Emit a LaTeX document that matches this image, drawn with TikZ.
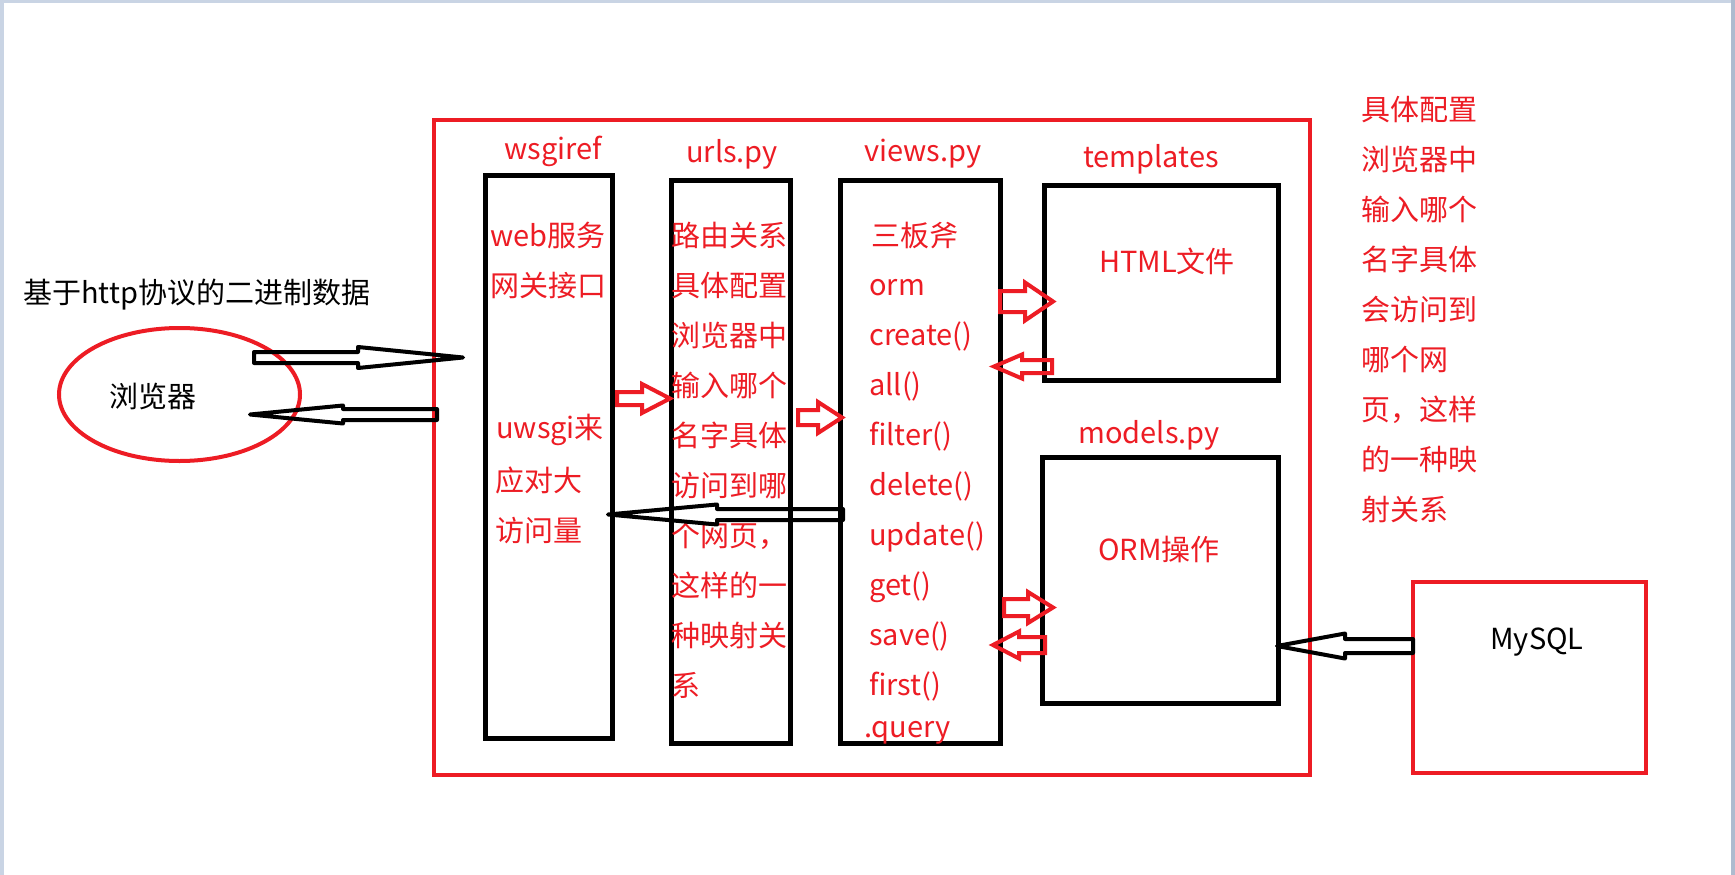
\documentclass[tikz,border=0pt]{standalone}
\usepackage{fontspec}
\setmainfont{Noto Sans CJK SC}
\definecolor{pred}{HTML}{ED1C24}
\definecolor{frameL}{HTML}{C9D4E4}
\definecolor{frameR}{HTML}{AEBBCF}
\newcommand\harrow[7]{% style, tail x, base x, tip x, y, shaft half, head half
  \draw[#1] ({#2},{#5-#6}) -- ({#3},{#5-#6}) -- ({#3},{#5-#7}) -- ({#4},{#5})
    -- ({#3},{#5+#7}) -- ({#3},{#5+#6}) -- ({#2},{#5+#6}) -- cycle;}
\tikzset{
  blk/.style={draw=black, line width=5pt},
  redbox/.style={draw=pred, line width=4pt},
  barrow/.style={draw=black, line width=4pt, line join=round},
  rarrow/.style={draw=pred, line width=4pt, line join=miter},
  rtxt/.style={text=pred, anchor=base west, inner sep=0pt, font=\fontsize{29}{29}\selectfont},
  rlab/.style={text=pred, anchor=base, inner sep=0pt, font=\fontsize{29}{29}\selectfont},
  ktxt/.style={text=black, inner sep=0pt, font=\fontsize{29}{29}\selectfont},
}
\begin{document}
\begin{tikzpicture}[x=1pt,y=-1pt]
\useasboundingbox (0,0) rectangle (1735,875);
\fill[white] (0,0) rectangle (1735,875);
\fill[frameL] (0,0) rectangle (4,875);
\fill[frameL] (0,0) rectangle (1735,3);
\fill[frameR] (1731,0) rectangle (1735,875);
% outer red frame
\draw[redbox] (434,120) rectangle (1310,775);
% browser
\draw[redbox] (179.5,394.5) ellipse [x radius=120.5, y radius=66.5];
\node[ktxt, anchor=base] (browser) at (153,407) {浏览器};
\node[ktxt, anchor=base west] (httpdata) at (23,303) {基于http协议的二进制数据};
% column boxes
\draw[blk] (485.5,175.5) rectangle (612.5,738);
\draw[blk] (671,180.5) rectangle (790.5,743);
\draw[blk] (840.5,180.5) rectangle (1000.5,743);
\draw[blk] (1044.5,185.5) rectangle (1278,380);
\draw[blk] (1042.5,457.5) rectangle (1278,703);
\draw[redbox] (1413,582) rectangle (1646,773);
% labels
\node[rlab] (lwsgi) at (553,159) {wsgiref};
\node[rlab] (lurls) at (732,162) {urls.py};
\node[rlab] (lviews) at (923,161) {views.py};
\node[rlab] (ltpl) at (1151,167) {templates};
\node[rlab] (lmod) at (1149,443) {models.py};
\node[rlab] (html) at (1167,272) {HTML文件};
\node[rlab] (orm) at (1159,560) {ORM操作};
\node[ktxt, anchor=base] (mysql) at (1537,649) {MySQL};
% wsgiref texts
\node[rtxt] (w1) at (490,246) {web服务};
\node[rtxt] (w2) at (490,296) {网关接口};
\node[rtxt] (w3) at (496,438) {uwsgi来};
\node[rtxt] (w4) at (495,491) {应对大};
\node[rtxt] (w5) at (495,541) {访问量};
% urls texts
\foreach \t [count=\i from 0] in {路由关系,具体配置,浏览器中,输入哪个,名字具体,访问到哪,个网页，,这样的一,种映射关,系}
  \node[rtxt] (u\i) at (671,{246+50*\i}) {\t};
% views texts
\node[rtxt] (v0) at (871,246) {三板斧};
\foreach \t [count=\i from 1] in {orm,create(),all(),filter(),delete(),update(),get(),save(),first()}
  \node[rtxt] (v\i) at (869,{245+50*\i}) {\t};
\node[rtxt] (vq) at (864,737) {.query};
% right texts
\foreach \t [count=\i from 0] in {具体配置,浏览器中,输入哪个,名字具体,会访问到,哪个网,页，这样,的一种映,射关系}
  \node[rtxt] (r\i) at (1361,{120+50*\i}) {\t};
% black hollow arrows
\harrow{barrow}{254}{358}{463}{357.5}{5.5}{10.5}
\harrow{barrow}{437}{343}{250}{414.5}{5.5}{9}
\harrow{barrow}{843}{717}{608}{514.5}{5.5}{10}
\harrow{barrow}{1413}{1345}{1277}{646}{7}{12.5}
% red hollow arrows
\harrow{rarrow}{617}{642}{670}{398.5}{6.5}{14.5}
\harrow{rarrow}{798}{818}{842}{417.5}{7.5}{15.5}
\harrow{rarrow}{1000}{1025}{1053}{301.5}{10.5}{19}
\harrow{rarrow}{1052}{1022}{994}{366.5}{6.5}{12}
\harrow{rarrow}{1004}{1028}{1053}{607.5}{8.5}{15.5}
\harrow{rarrow}{1045}{1019}{993}{645}{8}{13.5}
\end{tikzpicture}
\end{document}
